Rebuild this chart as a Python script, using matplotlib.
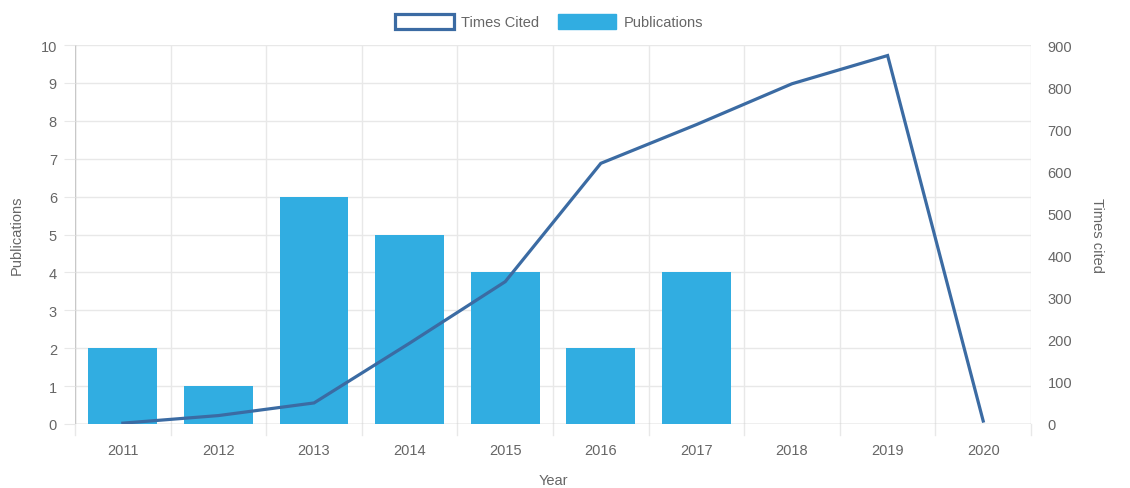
import matplotlib
matplotlib.use('Agg')
import matplotlib.pyplot as plt
from matplotlib.patches import Patch

plt.rcParams['font.family'] = ['Liberation Sans', 'DejaVu Sans']

years = ['2011', '2012', '2013', '2014', '2015', '2016', '2017', '2018', '2019', '2020']
publications = [2, 1, 6, 5, 4, 2, 4, 0, 0, 0]
times_cited = [2, 20, 50, 192, 338, 619, 711, 808, 875, 7]

bar_color = '#31ade1'
line_color = '#3b6ba3'
text_color = '#666666'
grid_color = '#e8e8e8'

fig = plt.figure(figsize=(11.3, 4.89), dpi=100)
ax = fig.add_axes([0.0664, 0.1309, 0.846, 0.775])
ax2 = ax.twinx()

x = list(range(len(years)))
ax.bar(x, publications, width=0.72, color=bar_color, zorder=2)
ax2.plot(x, times_cited, color=line_color, lw=2.3, zorder=3, solid_joinstyle='miter')

ax.set_xlim(-0.5, len(years) - 0.5)
ax.set_ylim(0, 10)
ax2.set_ylim(0, 900)
ax.set_yticks(range(0, 11))
ax2.set_yticks(range(0, 901, 100))
ax.set_xticks(x)
ax.set_xticklabels(years)

# grid lines between categories (chart.js offset grid)
for b in [i - 0.5 for i in range(len(years) + 1)]:
    ax.axvline(b, color=grid_color, lw=1, zorder=0)
    ax.plot([b, b], [0, -0.3], color=grid_color, lw=1, clip_on=False)
for v in range(1, 11):
    ax.axhline(v, color=grid_color, lw=1, zorder=0)
ax.axvline(-0.5, color='#c8c8c8', lw=1, zorder=1)
ax.axhline(0, color='#b0b0b0', lw=1, zorder=1)

for a in (ax, ax2):
    for s in a.spines.values():
        s.set_visible(False)
ax.tick_params(axis='x', length=0, pad=14, colors=text_color, labelsize=10.5)
ax.tick_params(axis='y', length=8, color=grid_color, pad=5, colors=text_color, labelsize=10.5)
ax2.tick_params(axis='y', length=0, pad=12, colors=text_color, labelsize=10.5)

ax.set_ylabel('Publications', color=text_color, fontsize=10.5, labelpad=12)
ax2.set_ylabel('Times cited', color=text_color, fontsize=10.5, rotation=270, labelpad=23)
ax.set_xlabel('Year', color=text_color, fontsize=10.5, labelpad=11)

handles = [Patch(facecolor='white', edgecolor=line_color, lw=2.3, label='Times Cited'),
           Patch(facecolor=bar_color, edgecolor=bar_color, label='Publications')]
fig.legend(handles=handles, loc='upper center', bbox_to_anchor=(0.486, 0.997), ncol=2,
           frameon=False, fontsize=10.5, labelcolor=text_color, handlelength=4.0,
           handleheight=1.3, handletextpad=0.5, columnspacing=1.3)

fig.savefig('out.png', dpi=100)
